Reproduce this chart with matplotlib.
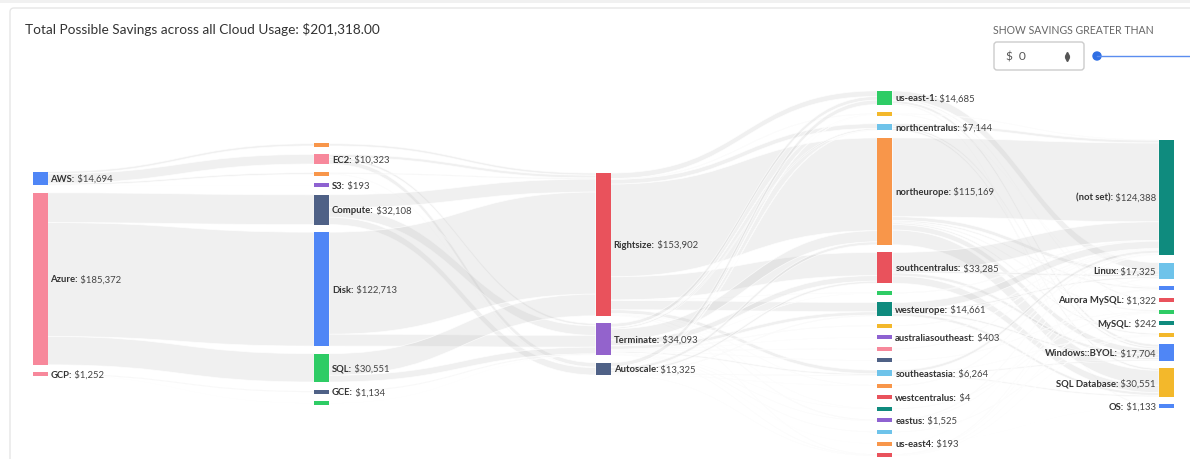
import matplotlib.pyplot as plt
from matplotlib.path import Path
from matplotlib.patches import PathPatch, Rectangle, FancyBboxPatch, Circle

plt.rcParams['font.family'] = ['Lato', 'DejaVu Sans']

##############################
#   Data                     #
##############################
# names starting with "_" are nodes drawn without a label

providers = ["AWS", "Azure", "GCP"]
provider_vals = [14694, 185372, 1252]

services = ["_svc1", "EC2", "_svc2", "S3", "Compute", "Disk", "SQL", "GCE", "_svc3"]
service_vals = [2398, 10323, 1780, 193, 32108, 122713, 30551, 1134, 118]

actions = ["Rightsize", "Terminate", "Autoscale"]
action_vals = [153902, 34093, 13325]

regions = ["us-east-1", "_reg1", "northcentralus", "northeurope", "southcentralus",
           "_reg2", "westeurope", "_reg3", "australiasoutheast", "_reg4", "_reg5",
           "southeastasia", "_reg6", "westcentralus", "_reg7", "eastus", "_reg8",
           "us-east4", "_reg9"]
region_vals = [14685, 1202, 7144, 115169, 33285, 900, 14661, 800, 403, 700, 600,
               6264, 900, 4, 700, 1525, 600, 193, 1585]

platforms = ["(not set)", "Linux", "_plat1", "Aurora MySQL", "_plat2", "MySQL",
             "_plat3", "Windows::BYOL", "SQL Database", "OS"]
platform_vals = [124388, 17325, 3000, 1322, 2800, 242, 2853, 17704, 30551, 1133]

# (source, target, savings)
links_provider = [
    ("AWS", "_svc1", 2398), ("AWS", "EC2", 10323), ("AWS", "_svc2", 1780), ("AWS", "S3", 193),
    ("Azure", "Compute", 32108), ("Azure", "Disk", 122713), ("Azure", "SQL", 30551),
    ("GCP", "GCE", 1134), ("GCP", "_svc3", 118),
]
links_service = [
    ("_svc1", "Rightsize", 2398),
    ("EC2", "Rightsize", 3000), ("EC2", "Terminate", 2500), ("EC2", "Autoscale", 4823),
    ("_svc2", "Rightsize", 1178), ("_svc2", "Autoscale", 602),
    ("S3", "Terminate", 193),
    ("Compute", "Rightsize", 14000), ("Compute", "Terminate", 10208), ("Compute", "Autoscale", 7900),
    ("Disk", "Rightsize", 110000), ("Disk", "Terminate", 12713),
    ("SQL", "Rightsize", 23326), ("SQL", "Terminate", 7225),
    ("GCE", "Terminate", 1134), ("_svc3", "Terminate", 118),
]
links_action = [
    ("Rightsize", "northeurope", 100000), ("Rightsize", "southcentralus", 25000),
    ("Rightsize", "westeurope", 10000), ("Rightsize", "us-east-1", 6000),
    ("Rightsize", "northcentralus", 5000), ("Rightsize", "southeastasia", 4000),
    ("Rightsize", "_reg1", 800), ("Rightsize", "_reg2", 600), ("Rightsize", "eastus", 1000),
    ("Rightsize", "_reg6", 500), ("Rightsize", "_reg7", 402), ("Rightsize", "_reg9", 600),
    ("Terminate", "northeurope", 12000), ("Terminate", "southcentralus", 6000),
    ("Terminate", "us-east-1", 4000), ("Terminate", "westeurope", 3661),
    ("Terminate", "northcentralus", 1644), ("Terminate", "southeastasia", 1500),
    ("Terminate", "_reg3", 800), ("Terminate", "australiasoutheast", 403),
    ("Terminate", "_reg4", 700), ("Terminate", "_reg5", 600), ("Terminate", "eastus", 525),
    ("Terminate", "_reg8", 600), ("Terminate", "us-east4", 193), ("Terminate", "westcentralus", 4),
    ("Terminate", "_reg7", 298), ("Terminate", "_reg9", 585), ("Terminate", "_reg2", 300),
    ("Terminate", "_reg1", 280),
    ("Autoscale", "us-east-1", 4685), ("Autoscale", "northeurope", 3169),
    ("Autoscale", "southcentralus", 2285), ("Autoscale", "westeurope", 1000),
    ("Autoscale", "northcentralus", 500), ("Autoscale", "southeastasia", 764),
    ("Autoscale", "_reg6", 400), ("Autoscale", "_reg9", 400), ("Autoscale", "_reg1", 122),
]
links_region = [
    ("us-east-1", "Linux", 9000), ("us-east-1", "Windows::BYOL", 3000),
    ("us-east-1", "Aurora MySQL", 1322), ("us-east-1", "MySQL", 242), ("us-east-1", "OS", 1121),
    ("_reg1", "(not set)", 602), ("_reg1", "_plat1", 600),
    ("northcentralus", "(not set)", 3000), ("northcentralus", "SQL Database", 2144),
    ("northcentralus", "Windows::BYOL", 2000),
    ("northeurope", "(not set)", 84898), ("northeurope", "SQL Database", 16000),
    ("northeurope", "Linux", 4000), ("northeurope", "Windows::BYOL", 6000),
    ("northeurope", "_plat1", 1500), ("northeurope", "_plat2", 1200), ("northeurope", "_plat3", 1571),
    ("southcentralus", "(not set)", 20000), ("southcentralus", "SQL Database", 8000),
    ("southcentralus", "Windows::BYOL", 3285), ("southcentralus", "Linux", 2000),
    ("_reg2", "(not set)", 900),
    ("westeurope", "(not set)", 8000), ("westeurope", "SQL Database", 3000),
    ("westeurope", "Windows::BYOL", 2000), ("westeurope", "Linux", 1661),
    ("_reg3", "(not set)", 800), ("australiasoutheast", "(not set)", 403),
    ("_reg4", "(not set)", 700), ("_reg5", "_plat2", 600),
    ("southeastasia", "(not set)", 3000), ("southeastasia", "Windows::BYOL", 1419),
    ("southeastasia", "SQL Database", 1407), ("southeastasia", "_plat3", 438),
    ("_reg6", "(not set)", 900), ("westcentralus", "(not set)", 4),
    ("_reg7", "_plat2", 700), ("eastus", "(not set)", 1000), ("eastus", "_plat1", 525),
    ("_reg8", "_plat3", 600), ("us-east4", "(not set)", 181), ("us-east4", "OS", 12),
    ("_reg9", "Linux", 664), ("_reg9", "_plat1", 375), ("_reg9", "_plat2", 300), ("_reg9", "_plat3", 246),
]

total_savings = 201318.00

##############################
#   Colours                  #
##############################
BLUE, PINK, ORANGE = '#4f86f6', '#f7889b', '#f8964a'
PURPLE, NAVY, GREEN = '#8e62d1', '#4f6186', '#2ecc65'
RED, LBLUE, TEAL, YELLOW = '#e9525c', '#6ec3ea', '#0f8b7e', '#f3b82b'

node_colors = {
    "AWS": BLUE, "Azure": PINK, "GCP": PINK,
    "_svc1": ORANGE, "EC2": PINK, "_svc2": ORANGE, "S3": PURPLE, "Compute": NAVY,
    "Disk": BLUE, "SQL": GREEN, "GCE": NAVY, "_svc3": GREEN,
    "Rightsize": RED, "Terminate": '#9363cc', "Autoscale": NAVY,
    "us-east-1": GREEN, "_reg1": YELLOW, "northcentralus": LBLUE, "northeurope": ORANGE,
    "southcentralus": RED, "_reg2": GREEN, "westeurope": TEAL, "_reg3": YELLOW,
    "australiasoutheast": PURPLE, "_reg4": PINK, "_reg5": NAVY, "southeastasia": LBLUE,
    "_reg6": ORANGE, "westcentralus": RED, "_reg7": TEAL, "eastus": PURPLE, "_reg8": LBLUE,
    "us-east4": ORANGE, "_reg9": RED,
    "(not set)": TEAL, "Linux": LBLUE, "_plat1": BLUE, "Aurora MySQL": RED, "_plat2": GREEN,
    "MySQL": TEAL, "_plat3": YELLOW, "Windows::BYOL": BLUE, "SQL Database": YELLOW, "OS": BLUE,
}

##############################
#   Layout                   #
##############################
K = 172 / 185372      # px per dollar
MIN_H = 4
PAD = 7.6
CENTER = 275
X0, DX, W = 32.5, 281.6, 15

columns = [(providers, provider_vals), (services, service_vals), (actions, action_vals),
           (regions, region_vals), (platforms, platform_vals)]
links = links_provider + links_service + links_action + links_region

nodes = {}
for ci, (names, vals) in enumerate(columns):
    hs = [max(v * K, MIN_H) for v in vals]
    y = CENTER - (sum(hs) + PAD * (len(hs) - 1)) / 2
    for n, v, h in zip(names, vals, hs):
        nodes[n] = dict(x=X0 + ci * DX, y=y, h=h, v=v, col=ci)
        y += h + PAD

# stack the links inside each node, ordered by the node on the other side
src_off, tgt_off = {}, {}
for n, nd in nodes.items():
    outs = sorted([l for l in links if l[0] == n], key=lambda l: nodes[l[1]]['y'])
    ins = sorted([l for l in links if l[1] == n], key=lambda l: nodes[l[0]]['y'])
    for group, store in ((outs, src_off), (ins, tgt_off)):
        used = sum(l[2] for l in group) * K
        y = nd['y'] + (nd['h'] - used) / 2
        for l in group:
            store[l] = y
            y += l[2] * K

fig = plt.figure(figsize=(11.9, 4.6), dpi=100)
ax = fig.add_axes([0, 0, 1, 1])
ax.set_xlim(0, 1190)
ax.set_ylim(460, 0)
ax.axis('off')

# card frame
ax.add_patch(Rectangle((0, 0), 1190, 4, color='#f1f1f1', lw=0))
ax.add_patch(FancyBboxPatch((10, 9), 1200, 470, boxstyle="round,pad=0,rounding_size=4",
                            fc='white', ec='#e6e6e6', lw=1))

# links
for l in links:
    s, t, v = l
    x0 = nodes[s]['x'] + W
    x1 = nodes[t]['x']
    y0, y1, w = src_off[l], tgt_off[l], v * K
    xm = (x0 + x1) / 2
    verts = [(x0, y0), (xm, y0), (xm, y1), (x1, y1), (x1, y1 + w),
             (xm, y1 + w), (xm, y0 + w), (x0, y0 + w), (x0, y0)]
    codes = [Path.MOVETO, Path.CURVE4, Path.CURVE4, Path.CURVE4, Path.LINETO,
             Path.CURVE4, Path.CURVE4, Path.CURVE4, Path.CLOSEPOLY]
    ax.add_patch(PathPatch(Path(verts, codes), fc=(0.72, 0.72, 0.72, 0.2),
                           ec=(1, 1, 1, 0.7), lw=0.6))

# nodes + labels
renderer = fig.canvas.get_renderer()
FS = 6.8
for n, nd in nodes.items():
    ax.add_patch(Rectangle((nd['x'], nd['y']), W, nd['h'], color=node_colors[n], lw=0))
    if n.startswith('_'):
        continue
    yc = nd['y'] + nd['h'] / 2
    value = f" ${nd['v']:,}"
    if nd['col'] < 4:
        t1 = ax.text(nd['x'] + W + 3, yc, n + ":", fontsize=FS, fontweight='bold',
                     color='#333333', va='center', ha='left')
        wd = t1.get_window_extent(renderer).width
        ax.text(nd['x'] + W + 3 + wd, yc, value, fontsize=FS, color='#444444',
                va='center', ha='left')
    else:
        t2 = ax.text(nd['x'] - 3, yc, value, fontsize=FS, color='#444444',
                     va='center', ha='right')
        wd = t2.get_window_extent(renderer).width
        ax.text(nd['x'] - 3 - wd, yc, n + ":", fontsize=FS, fontweight='bold',
                color='#333333', va='center', ha='right')

# title
ax.text(25, 29, f"Total Possible Savings across all Cloud Usage: ${total_savings:,.2f}",
        fontsize=9.8, color='#333333', va='center', ha='left')

# filter widget (top right)
ax.text(993, 30, "SHOW SAVINGS GREATER THAN", fontsize=7.6, color='#666666',
        va='center', ha='left')
ax.add_patch(FancyBboxPatch((994, 43), 90, 28, boxstyle="round,pad=0,rounding_size=3",
                            fc='white', ec='#cccccc', lw=1))
ax.text(1006, 57, "$  0", fontsize=8.6, color='#555555', va='center', ha='left')
ax.plot([1067], [54.5], marker='^', ms=3, color='#555555')
ax.plot([1067], [59.5], marker='v', ms=3, color='#555555')
ax.plot([1097, 1190], [57, 57], color='#5b8def', lw=1)
ax.add_patch(Circle((1097, 57), 4, color='#2f6fe4'))

fig.savefig('out.png', dpi=100)
